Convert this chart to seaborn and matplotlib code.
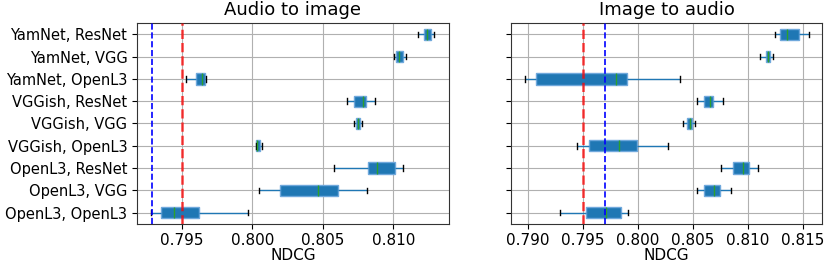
import numpy as np
import pandas as pd
import seaborn as sns
import matplotlib.pyplot as plt

pairs = ["YamNet, ResNet", "YamNet, VGG", "YamNet, OpenL3",
         "VGGish, ResNet", "VGGish, VGG", "VGGish, OpenL3",
         "OpenL3, ResNet", "OpenL3, VGG", "OpenL3, OpenL3"]

# five-number summaries (whisker low, q1, median, q3, whisker high)
a2i_lo  = [0.81173, 0.81005, 0.79531, 0.80672, 0.80719, 0.80023, 0.80580, 0.80049, 0.79282]
a2i_q1  = [0.81216, 0.81017, 0.79602, 0.80719, 0.80736, 0.80026, 0.80818, 0.80200, 0.79351]
a2i_med = [0.81241, 0.81043, 0.79642, 0.80783, 0.80750, 0.80033, 0.80885, 0.80466, 0.79447]
a2i_q3  = [0.81266, 0.81067, 0.79668, 0.80809, 0.80761, 0.80058, 0.81010, 0.80608, 0.79623]
a2i_hi  = [0.81289, 0.81088, 0.79673, 0.80868, 0.80780, 0.80070, 0.81072, 0.80811, 0.79973]

i2a_lo  = [0.81249, 0.81113, 0.78973, 0.80540, 0.80409, 0.79449, 0.80752, 0.80540, 0.79291]
i2a_q1  = [0.81295, 0.81161, 0.79070, 0.80600, 0.80445, 0.79555, 0.80864, 0.80597, 0.79531]
i2a_med = [0.81358, 0.81185, 0.79804, 0.80658, 0.80470, 0.79827, 0.80952, 0.80688, 0.79706]
i2a_q3  = [0.81461, 0.81206, 0.79897, 0.80682, 0.80491, 0.79988, 0.81015, 0.80743, 0.79849]
i2a_hi  = [0.81555, 0.81227, 0.80379, 0.80770, 0.80515, 0.80276, 0.81091, 0.80843, 0.79913]

# reference lines (red, blue)
a2i_red, a2i_blue = 0.795, 0.7929
i2a_red, i2a_blue = 0.795, 0.797


def to_long(lo, q1, med, q3, hi):
    rows = []
    for i, p in enumerate(pairs):
        for v in (lo[i], q1[i], med[i], q3[i], hi[i]):
            rows.append({"pair": p, "NDCG": v})
    return pd.DataFrame(rows)


def draw(ax, df, red, blue, title, xlim, ticks, show_labels):
    sns.boxplot(data=df, x="NDCG", y="pair", order=pairs, orient="h", ax=ax,
                whis=(0, 100), width=0.5, color="#1f77b4", saturation=1,
                showfliers=False,
                boxprops=dict(facecolor="#1f77b4", edgecolor="#6fa8dc", linewidth=1),
                whiskerprops=dict(color="#1f77b4", linewidth=1),
                capprops=dict(color="black", linewidth=1),
                medianprops=dict(color="#2ca02c", linewidth=1))
    ax.axvline(red, color="red", linestyle="--", linewidth=1.8, alpha=0.75, zorder=5)
    ax.axvline(blue, color="blue", linestyle="--", linewidth=1.2, zorder=5)
    ax.set_xlim(*xlim)
    ax.set_xticks(ticks)
    ax.set_xticklabels([f"{t:.3f}" for t in ticks])
    ax.set_ylim(8.5, -0.5)
    ax.grid(True, color="#b0b0b0", linewidth=0.8)
    ax.set_axisbelow(True)
    ax.set_title(title, fontsize=13)
    ax.set_xlabel("NDCG", fontsize=11, labelpad=0)
    ax.set_ylabel("")
    ax.tick_params(axis="x", labelsize=11)
    ax.tick_params(axis="y", labelsize=10.5)
    if not show_labels:
        ax.set_yticklabels([])
    for s in ax.spines.values():
        s.set_color("#333333")


fig = plt.figure(figsize=(8.31, 2.67), dpi=100)
ax1 = fig.add_axes([0.1649, 0.1622, 0.3751, 0.7506])
ax2 = fig.add_axes([0.6146, 0.1622, 0.3750, 0.7506])

draw(ax1, to_long(a2i_lo, a2i_q1, a2i_med, a2i_q3, a2i_hi), a2i_red, a2i_blue,
     "Audio to image", (0.79183, 0.81393), [0.795, 0.800, 0.805, 0.810], True)
draw(ax2, to_long(i2a_lo, i2a_q1, i2a_med, i2a_q3, i2a_hi), i2a_red, i2a_blue,
     "Image to audio", (0.78843, 0.81678), [0.790, 0.795, 0.800, 0.805, 0.810, 0.815], False)

fig.savefig("out.png", dpi=100)
plt.close(fig)
